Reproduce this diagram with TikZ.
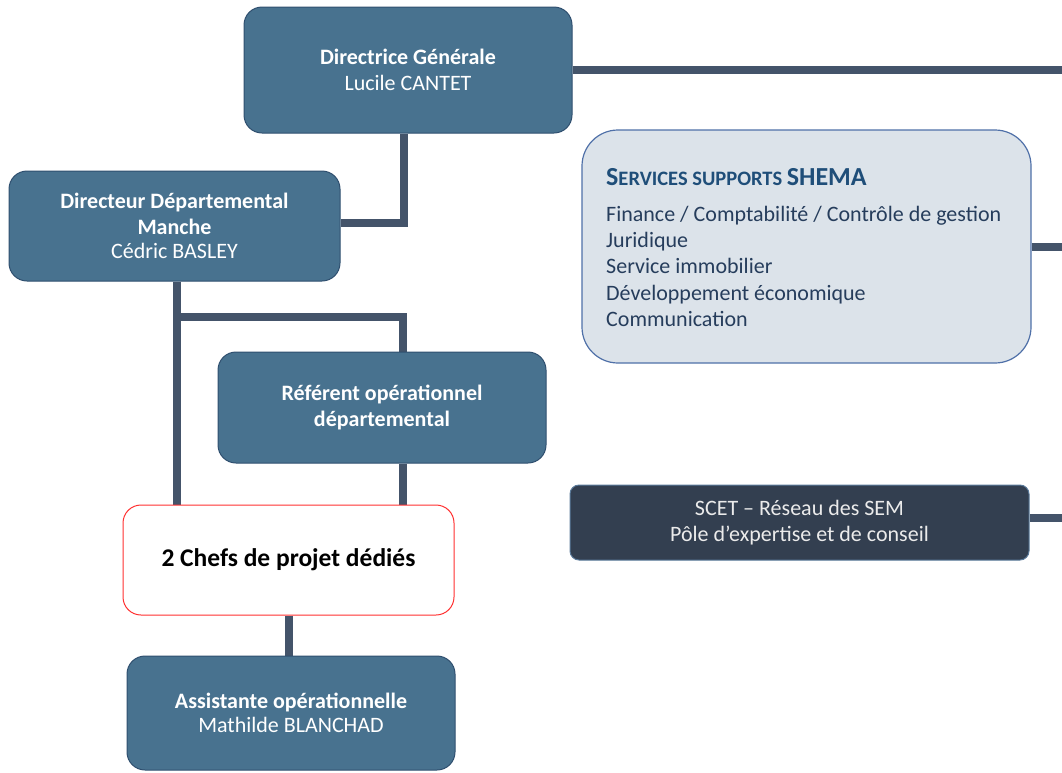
\documentclass[tikz,border=0pt]{standalone}
\usepackage{fontspec}
\setmainfont{Carlito}
\usetikzlibrary{calc,backgrounds}
\definecolor{boxblue}{HTML}{48728F}
\definecolor{boxedge}{HTML}{2F4F6F}
\definecolor{conn}{HTML}{44546A}
\definecolor{svcfill}{HTML}{DCE3EA}
\definecolor{svcedge}{HTML}{4F70A8}
\definecolor{svctitle}{HTML}{1F4E79}
\definecolor{svctext}{HTML}{263D5C}
\definecolor{scetfill}{HTML}{333F50}
\definecolor{scetedge}{HTML}{5A7A9A}
\definecolor{chefred}{HTML}{FF3030}
\tikzset{
  orgbox/.style={draw=boxedge, line width=1pt, fill=boxblue, rounded corners=18pt,
    text=white, align=center, inner sep=0pt, font=\fontsize{22}{26}\selectfont},
  link/.style={draw=conn, line width=8pt},
}
\begin{document}
\begin{tikzpicture}[x=1pt,y=-1pt]
\useasboundingbox (0,0) rectangle (1062,772);
% nodes
\node[orgbox, minimum width=328pt, minimum height=126pt] (dg) at (408,70)
  {\textbf{Directrice Générale}\\Lucile CANTET};
\node[orgbox, minimum width=331pt, minimum height=110pt] (dd) at (174.5,226)
  {\textbf{Directeur Départemental}\\\textbf{Manche}\\[-2pt]Cédric BASLEY};
\node[orgbox, minimum width=328pt, minimum height=111pt] (ref) at (382,407.5)
  {\textbf{Référent opérationnel}\\\textbf{départemental}};
\node[draw=chefred, line width=1pt, fill=white, rounded corners=18pt, inner sep=0pt,
  minimum width=331pt, minimum height=110pt, font=\fontsize{25.5}{30}\selectfont\bfseries] (chefs) at (288.5,560)
  {2 Chefs de projet dédiés};
\node[orgbox, minimum width=328pt, minimum height=114pt, font=\fontsize{22}{24}\selectfont] (asst) at (291,713)
  {\textbf{Assistante opérationnelle}\\Mathilde BLANCHAD};
\node[draw=svcedge, line width=1.2pt, fill=svcfill, rounded corners=36pt, inner sep=0pt,
  minimum width=449pt, minimum height=233pt] (svc) at (806.5,246.5) {};
\node[anchor=base west, inner sep=0pt, text=svctitle, font=\bfseries] (svctitle) at (606,185)
  {\fontsize{26}{30}\selectfont S\fontsize{20.5}{30}\selectfont ERVICES SUPPORTS \fontsize{26}{30}\selectfont SHEMA};
\node[anchor=north west, inner sep=0pt, text=svctext, align=left,
  font=\fontsize{22}{26.25}\selectfont] (svclist) at (606,206)
  {Finance / Comptabilité / Contrôle de gestion\\Juridique\\Service immobilier\\Développement économique\\Communication};
\node[draw=scetedge, line width=1pt, fill=scetfill, rounded corners=9pt, inner sep=0pt,
  minimum width=459pt, minimum height=75pt, text=white!92!black, align=center,
  font=\fontsize{22}{26}\selectfont] (scet) at (799.5,522.5)
  {SCET – Réseau des SEM\\Pôle d’expertise et de conseil};
% helper coordinates
\coordinate (edge) at (1062,0);
\coordinate (dgb) at ($(dg.south)+(-4,0)$);
\coordinate (dde) at ($(dd.east)+(0,-3)$);
\coordinate (ddb) at ($(dd.south)+(2.5,0)$);
\coordinate (split) at ($(dd.south)+(2.5,35)$);
\coordinate (reft) at ($(ref.north)+(21,0)$);
\coordinate (refb) at ($(ref.south)+(21,0)$);
\coordinate (scete) at ($(scet.east)+(0,-5)$);
% connectors (behind boxes)
\begin{scope}[on background layer]
  \draw[link] (dg.east) -- (dg.east -| edge);
  \draw[link] (dgb) |- (dde);
  \draw[link] (ddb) -- (ddb |- chefs.north);
  \draw[link] (split) -| (reft);
  \draw[link] (refb) -- (refb |- chefs.north);
  \draw[link] (chefs.south) -- (chefs.south |- asst.north);
  \draw[link] (svc.east) -- (svc.east -| edge);
  \draw[link] (scete) -- (scete -| edge);
\end{scope}
\end{tikzpicture}
\end{document}
